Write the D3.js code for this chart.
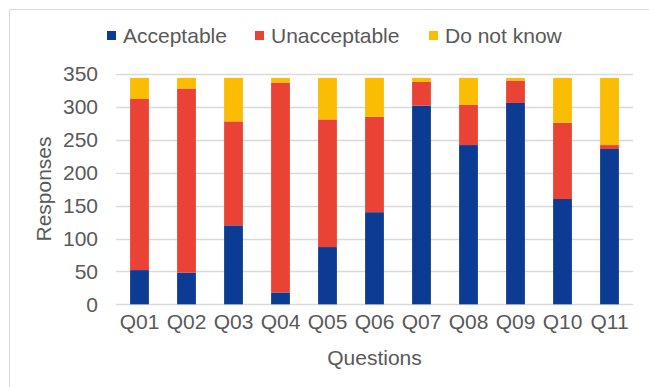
<!DOCTYPE html>
<html>
<head>
<meta charset="utf-8">
<script src="https://cdn.jsdelivr.net/npm/d3@7"></script>
<style>
  body { margin: 0; background: #fff; }
  text { font-family: "Liberation Sans", Arial, sans-serif; fill: #595959; }
</style>
</head>
<body>
<script>
const questions = ["Q01", "Q02", "Q03", "Q04", "Q05", "Q06", "Q07", "Q08", "Q09", "Q10", "Q11"];
const acceptable   = [52, 48, 120, 18, 87, 140, 302, 242, 306, 160, 236];
const unacceptable = [260, 280, 158, 319, 194, 145, 36, 61, 34, 116, 6];
const doNotKnow    = [32, 16, 66, 7, 63, 59, 6, 41, 4, 68, 102];
const seriesNames  = ["Acceptable", "Unacceptable", "Do not know"];
const yTicks       = [0, 50, 100, 150, 200, 250, 300, 350];

const colors = ["#0b3b93", "#ea4335", "#fbbc04"];

const width = 649, height = 387;
const margin = {top: 74, right: 16, bottom: 83, left: 116};

const svg = d3.select("body").append("svg")
  .attr("width", width)
  .attr("height", height);

// chart frame (only top and left edge are visible in the crop)
svg.append("rect")
  .attr("x", 9.5).attr("y", 9.5)
  .attr("width", 700).attr("height", 400)
  .attr("fill", "none")
  .attr("stroke", "#d9d9d9");

const rows = questions.map((q, i) => ({
  q: q,
  "Acceptable": acceptable[i],
  "Unacceptable": unacceptable[i],
  "Do not know": doNotKnow[i]
}));
const stacked = d3.stack().keys(seriesNames)(rows);

const x = d3.scaleBand()
  .domain(questions)
  .range([margin.left, width - margin.right])
  .paddingInner(0.6)
  .paddingOuter(0.3);

const y = d3.scaleLinear()
  .domain([0, 350])
  .range([height - margin.bottom + 0.3, margin.top]);

// gridlines
svg.append("g")
  .selectAll("line")
  .data(yTicks)
  .join("line")
  .attr("x1", margin.left)
  .attr("x2", width - margin.right)
  .attr("y1", d => Math.round(y(d)) + 0.5)
  .attr("y2", d => Math.round(y(d)) + 0.5)
  .attr("stroke", "#d9d9d9")
  .attr("stroke-width", 1.3);

// y axis labels
const yAxis = svg.append("g")
  .attr("transform", "translate(" + margin.left + ",0)")
  .call(d3.axisLeft(y).tickValues(yTicks).tickSize(0).tickPadding(18));
yAxis.select(".domain").remove();
yAxis.selectAll("text")
  .attr("font-size", 21)
  .attr("font-family", null)
  .attr("fill", "#595959");

// bars
svg.append("g")
  .selectAll("g")
  .data(stacked)
  .join("g")
  .attr("fill", (d, i) => colors[i])
  .selectAll("rect")
  .data(d => d)
  .join("rect")
  .attr("x", d => x(d.data.q))
  .attr("width", x.bandwidth())
  .attr("y", d => y(d[1]))
  .attr("height", d => y(d[0]) - y(d[1]));

// x axis labels
const xAxis = svg.append("g")
  .attr("transform", "translate(0," + (height - margin.bottom) + ")")
  .call(d3.axisBottom(x).tickSize(0).tickPadding(10));
xAxis.select(".domain").remove();
xAxis.selectAll("text")
  .attr("font-size", 21)
  .attr("font-family", null)
  .attr("fill", "#595959");

// axis titles
svg.append("text")
  .attr("x", (margin.left + width - margin.right) / 2)
  .attr("y", 365)
  .attr("text-anchor", "middle")
  .attr("font-size", 21)
  .text("Questions");

svg.append("text")
  .attr("transform", "translate(51," + ((margin.top + height - margin.bottom) / 2) + ") rotate(-90)")
  .attr("text-anchor", "middle")
  .attr("font-size", 21)
  .text("Responses");

// legend
const legendX = [107, 255, 429];
const legend = svg.append("g")
  .selectAll("g")
  .data(seriesNames)
  .join("g")
  .attr("transform", (d, i) => "translate(" + legendX[i] + ",0)");
legend.append("rect")
  .attr("x", 0).attr("y", 31)
  .attr("width", 9).attr("height", 9)
  .attr("fill", (d, i) => colors[i]);
legend.append("text")
  .attr("x", 16)
  .attr("y", 43)
  .attr("font-size", 21)
  .text(d => d);
</script>
</body>
</html>
